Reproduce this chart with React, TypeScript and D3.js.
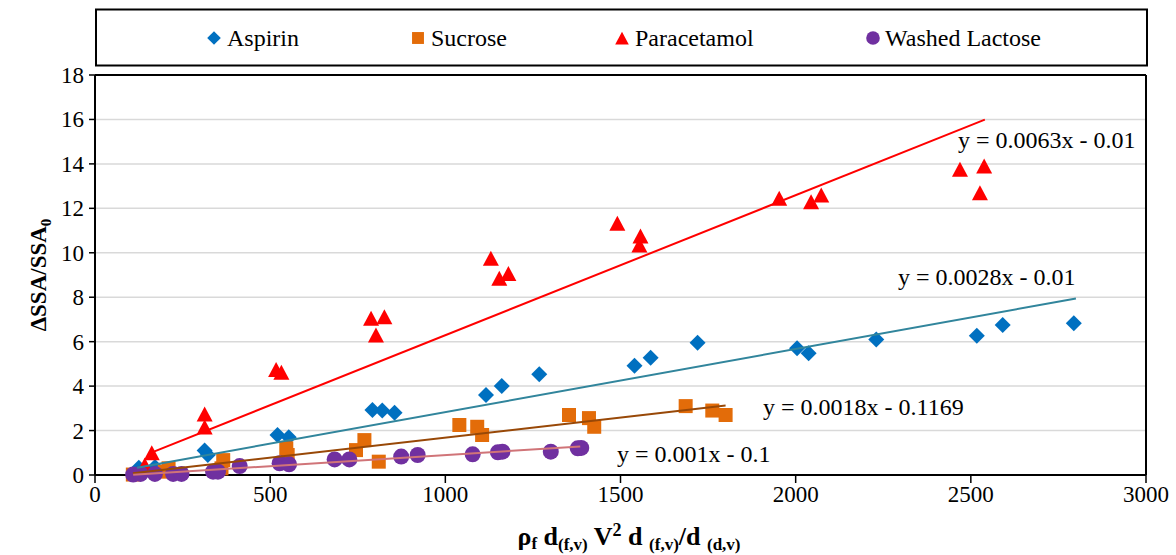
import React from "react";
import * as d3 from "d3";

// ---------- data ----------
const seriesNames = ["Aspirin", "Sucrose", "Paracetamol", "Washed Lactose"];

const aspirinX = [125, 171, 313, 322, 521, 553, 792, 820, 855, 1116, 1161, 1268, 1540, 1586, 1720, 2004, 2037, 2230, 2517, 2591, 2794];
const aspirinY = [0.33, 0.36, 1.1, 0.9, 1.8, 1.7, 2.93, 2.9, 2.8, 3.6, 4.0, 4.53, 4.92, 5.28, 5.95, 5.7, 5.48, 6.1, 6.27, 6.75, 6.83];

const sucroseX = [108, 199, 210, 361, 366, 546, 550, 745, 769, 810, 1040, 1091, 1105, 1353, 1410, 1425, 1686, 1762, 1800];
const sucroseY = [0.02, 0.15, 0.3, 0.3, 0.67, 1.2, 0.9, 1.12, 1.57, 0.6, 2.25, 2.17, 1.8, 2.7, 2.56, 2.17, 3.1, 2.9, 2.7];

const paracetamolX = [142, 162, 313, 313, 517, 532, 788, 826, 802, 1130, 1154, 1180, 1491, 1557, 1554, 1953, 2044, 2073, 2469, 2538, 2526];
const paracetamolY = [0.45, 1.0, 2.75, 2.16, 4.75, 4.62, 7.05, 7.12, 6.3, 9.75, 8.85, 9.07, 11.33, 10.75, 10.35, 12.45, 12.3, 12.6, 13.76, 13.9, 12.7];

const lactoseX = [109, 130, 171, 223, 247, 337, 351, 413, 527, 554, 684, 726, 874, 921, 1078, 1150, 1163, 1301, 1378, 1388];
const lactoseY = [0.02, 0.05, 0.05, 0.05, 0.05, 0.15, 0.15, 0.4, 0.53, 0.48, 0.7, 0.7, 0.83, 0.9, 0.93, 1.02, 1.05, 1.05, 1.2, 1.22];

// trendlines (slope, intercept, x range) per series, same order as seriesNames
const trendSlope = [0.00284, 0.0018, 0.0063, 0.001];
const trendIntercept = [-0.01, -0.1169, -0.01, -0.1];
const trendStart = [120, 108, 161, 109];
const trendEnd = [2800, 1800, 2540, 1385];
const trendLabels = ["y = 0.0028x - 0.01", "y = 0.0018x - 0.1169", "y = 0.0063x - 0.01", "y = 0.001x - 0.1"];

const xTicks = [0, 500, 1000, 1500, 2000, 2500, 3000];
const yTicks = [0, 2, 4, 6, 8, 10, 12, 14, 16, 18];

// ---------- styles ----------
const markerColors = ["#0070C0", "#E36C09", "#FF0000", "#7030A0"];
const lineColors = ["#31859C", "#984807", "#FF0000", "#D07478"];
const labelPos = [
  { x: 898, y: 285 },
  { x: 763, y: 415 },
  { x: 958, y: 148 },
  { x: 617, y: 462 },
];
const FONT = "Liberation Serif, Times New Roman, serif";

const W = 1176, H = 555;
const L = 95, R = 1146, T = 75, B = 475;

function Marker({ kind, x, y, color, k = 1 }: { kind: number; x: number; y: number; color: string; k?: number }) {
  if (kind === 0) {
    const s = 8 * k;
    return <path d={`M${x},${y - s}L${x + s},${y}L${x},${y + s}L${x - s},${y}Z`} fill={color} />;
  }
  if (kind === 1) {
    const s = 7 * k;
    return <rect x={x - s} y={y - s} width={2 * s} height={2 * s} fill={color} />;
  }
  if (kind === 2) {
    const hw = 8 * k, hh = 7.5 * k;
    return <path d={`M${x},${y - hh}L${x + hw},${y + hh}L${x - hw},${y + hh}Z`} fill={color} />;
  }
  return <circle cx={x} cy={y} r={8 * k} fill={color} />;
}

export default function App() {
  const x = d3.scaleLinear().domain([0, 3000]).range([L, R]);
  const y = d3.scaleLinear().domain([0, 18]).range([B, T]);

  const seriesX = [aspirinX, sucroseX, paracetamolX, lactoseX];
  const seriesY = [aspirinY, sucroseY, paracetamolY, lactoseY];

  const line = d3
    .line<number[]>()
    .x((d) => x(d[0]))
    .y((d) => y(d[1]));

  const legendItems = [
    { mx: 214, tx: 227 },
    { mx: 418, tx: 431 },
    { mx: 622, tx: 635 },
    { mx: 873, tx: 885 },
  ];

  return (
    <div style={{ position: "absolute", left: 0, top: 0 }}>
      <svg width={W} height={H} style={{ display: "block", background: "#fff" }}>
        {/* legend */}
        <rect x={96} y={9.5} width={1051} height={56} fill="#fff" stroke="#000" strokeWidth={2} />
        {legendItems.map((it, i) => (
          <g key={i}>
            <Marker kind={i} x={it.mx} y={38} color={markerColors[i]} k={0.85} />
            <text x={it.tx} y={46} fontFamily={FONT} fontSize={24} fill="#000">
              {seriesNames[i]}
            </text>
          </g>
        ))}

        {/* gridlines */}
        {yTicks.slice(1).map((t) => (
          <line key={t} x1={L} x2={R} y1={y(t)} y2={y(t)} stroke="#D9D9D9" strokeWidth={1.5} />
        ))}

        {/* plot border */}
        <line x1={L} x2={R} y1={T} y2={T} stroke="#000" strokeWidth={2} />
        <line x1={R} x2={R} y1={T} y2={B} stroke="#000" strokeWidth={2} />

        {/* axes */}
        <line x1={L} x2={R} y1={B} y2={B} stroke="#000" strokeWidth={2} />
        <line x1={L} x2={L} y1={T} y2={B} stroke="#000" strokeWidth={2} />
        {yTicks.map((t) => (
          <g key={t}>
            <line x1={L - 6} x2={L} y1={y(t)} y2={y(t)} stroke="#000" strokeWidth={1.5} />
            <text x={84} y={y(t) + 8} textAnchor="end" fontFamily={FONT} fontSize={23} fill="#000">
              {t}
            </text>
          </g>
        ))}
        {xTicks.map((t) => (
          <g key={t}>
            <line x1={x(t)} x2={x(t)} y1={B} y2={B + 8} stroke="#000" strokeWidth={1.5} />
            <text x={x(t)} y={502} textAnchor="middle" fontFamily={FONT} fontSize={23} fill="#000">
              {t}
            </text>
          </g>
        ))}

        {/* markers */}
        {seriesX.map((xs, si) => (
          <g key={si}>
            {xs.map((v, j) => (
              <Marker key={j} kind={si} x={x(v)} y={y(seriesY[si][j])} color={markerColors[si]} />
            ))}
          </g>
        ))}

        {/* trendlines */}
        {trendSlope.map((m, i) => {
          const pts = [trendStart[i], trendEnd[i]].map((xv) => [xv, m * xv + trendIntercept[i]]);
          return <path key={i} d={line(pts) || ""} fill="none" stroke={lineColors[i]} strokeWidth={2} />;
        })}

        {/* equation labels */}
        {trendLabels.map((s, i) => (
          <text key={i} x={labelPos[i].x} y={labelPos[i].y} fontFamily={FONT} fontSize={24} fill="#000">
            {s}
          </text>
        ))}

        {/* axis titles */}
        <text
          transform={`translate(46,${(T + B) / 2}) rotate(-90)`}
          textAnchor="middle"
          fontFamily={FONT}
          fontSize={23}
          fontWeight="bold"
          fill="#000"
        >
          ΔSSA/SSA
          <tspan fontSize={15} dy={5}>0</tspan>
        </text>
        <text x={629} y={545} textAnchor="middle" fontFamily={FONT} fontSize={26} fontWeight="bold" fill="#000">
          ρ<tspan fontSize={17} dy={4}>f</tspan>
          <tspan dy={-4}> d</tspan>
          <tspan fontSize={17} dy={5}>(f,v)</tspan>
          <tspan dy={-5}> V</tspan>
          <tspan fontSize={18} dy={-9}>2</tspan>
          <tspan dy={9}> d </tspan>
          <tspan fontSize={17} dy={5}>(f,v)</tspan>
          <tspan dy={-5}>/d </tspan>
          <tspan fontSize={17} dy={5}>(d,v)</tspan>
        </text>
      </svg>
    </div>
  );
}
